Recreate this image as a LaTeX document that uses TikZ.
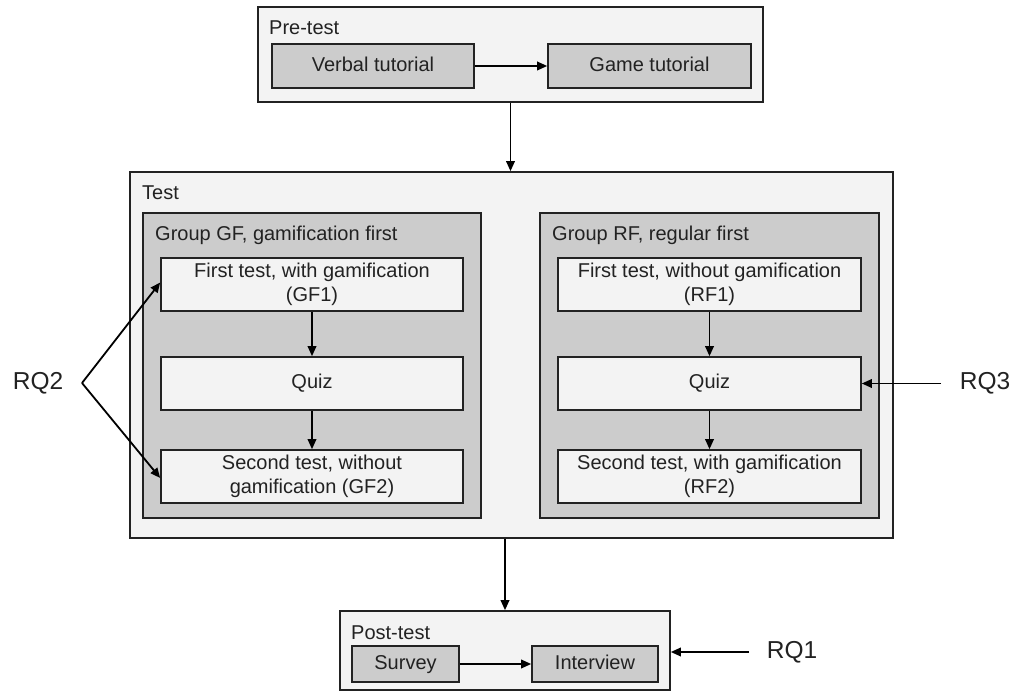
\documentclass[tikz,border=0pt]{standalone}
\usepackage{fontspec}
\setmainfont{Liberation Sans}
\usetikzlibrary{arrows.meta}
\definecolor{lightfill}{HTML}{F3F3F3}
\definecolor{darkfill}{HTML}{CCCCCC}
\definecolor{ink}{HTML}{222222}
\tikzset{
  box/.style={draw=ink, line width=1.6pt, inner sep=0pt, text=ink, font=\fontsize{20}{24}\selectfont, align=center},
  outerbox/.style={box, fill=lightfill},
  groupbox/.style={box, fill=darkfill},
  innerbox/.style={box, fill=lightfill},
  tutbox/.style={box, fill=darkfill},
  oneline/.style={text height=14.5pt, text depth=4pt},
  lbl/.style={inner sep=0pt, text=ink, font=\fontsize{20}{24}\selectfont, anchor=base west},
  rq/.style={inner sep=0pt, text=ink, font=\fontsize{24.5}{29}\selectfont},
  arr/.style={draw=black, line width=1.8pt, -{Triangle[length=10pt,width=8.5pt]}}
}
\begin{document}
\begin{tikzpicture}[x=1pt,y=-1pt]
\useasboundingbox (0,0) rectangle (1018,692);
% Pre-test
\node[outerbox, minimum width=505pt, minimum height=95pt] (pre) at (510.5,54.5) {};
\node[lbl] (prel) at (269,35) {Pre-test};
\node[tutbox, oneline, minimum width=202pt, minimum height=44pt] (verbal) at (373,66) {Verbal tutorial};
\node[tutbox, oneline, minimum width=203pt, minimum height=44pt] (game) at (649.5,66) {Game tutorial};
% Test
\node[outerbox, minimum width=763pt, minimum height=366pt] (test) at (511.5,355) {};
\node[lbl] (testl) at (142,200) {Test};
\node[groupbox, minimum width=338pt, minimum height=305pt] (gf) at (312,365.5) {};
\node[lbl] (gfl) at (155,241) {Group GF, gamification first};
\node[innerbox, minimum width=302pt, minimum height=53pt] (gf1) at (312,284.5) {First test, with gamification\\(GF1)};
\node[innerbox, oneline, minimum width=302pt, minimum height=53pt] (gfq) at (312,383.5) {Quiz};
\node[innerbox, minimum width=302pt, minimum height=53pt] (gf2) at (312,476.5) {Second test, without\\gamification (GF2)};
\node[groupbox, minimum width=339pt, minimum height=305pt] (rf) at (709.5,365.5) {};
\node[lbl] (rfl) at (552,241) {Group RF, regular first};
\node[innerbox, minimum width=303pt, minimum height=53pt] (rf1) at (709.5,284.5) {First test, without gamification\\(RF1)};
\node[innerbox, oneline, minimum width=303pt, minimum height=53pt] (rfq) at (709.5,383.5) {Quiz};
\node[innerbox, minimum width=303pt, minimum height=53pt] (rf2) at (709.5,476.5) {Second test, with gamification\\(RF2)};
% Post-test
\node[outerbox, minimum width=330pt, minimum height=79pt] (post) at (505,650.5) {};
\node[lbl] (postl) at (351,639) {Post-test};
\node[tutbox, oneline, minimum width=107pt, minimum height=36pt] (survey) at (405.5,664) {Survey};
\node[tutbox, oneline, minimum width=126pt, minimum height=36pt] (interview) at (595,664) {Interview};
% RQ labels
\node[rq] (rq2) at (38,383) {RQ2};
\node[rq] (rq3) at (985,383) {RQ3};
\node[rq] (rq1) at (792,652) {RQ1};
\coordinate (rq2v) at (82,383);
\coordinate (rq3s) at (941,383.5);
\coordinate (rq1s) at (749,652);
% connectors
\draw[arr] (verbal.east) -- (game.west);
\draw[arr] (pre.south) -- (pre.south |- test.north);
\draw[arr] (gf1.south) -- (gfq.north);
\draw[arr] (gfq.south) -- (gf2.north);
\draw[arr] (rf1.south) -- (rfq.north);
\draw[arr] (rfq.south) -- (rf2.north);
\draw[arr] (post.north |- test.south) -- (post.north);
\draw[arr] (survey.east) -- (interview.west);
\draw[arr] (rq2v) -- ([yshift=2pt]gf1.west);
\draw[arr] (rq2v) -- ([yshift=-1.5pt]gf2.west);
\draw[arr] (rq3s) -- (rfq.east);
\draw[arr] (rq1s) -- (post.east |- rq1s);
\end{tikzpicture}
\end{document}
